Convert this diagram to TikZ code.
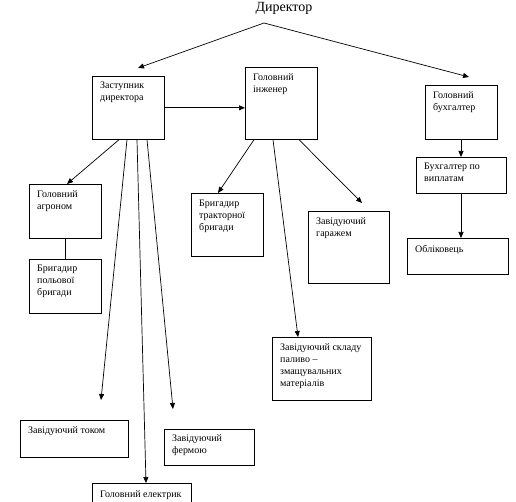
\documentclass[tikz,border=0pt]{standalone}
\usepackage{fontspec}
\setmainfont{Liberation Serif}
\usetikzlibrary{arrows.meta}
\begin{document}
\begin{tikzpicture}[x=1pt,y=-1pt,
  box/.style={draw,line width=0.7pt,inner sep=0pt,anchor=north west},
  txt/.style={inner sep=0pt,anchor=north west,align=left,font=\fontsize{10}{12}\selectfont},
  arr/.style={line width=0.7pt,-{Triangle[length=6pt,width=5pt]}},
  ln/.style={line width=0.7pt}]
\useasboundingbox (0,0) rectangle (516,502);
\clip (0,0) rectangle (516,502);
% title
\node[inner sep=0pt,font=\fontsize{14}{16}\selectfont] (dir) at (284,8) {Директор};
\coordinate (ds) at (264,23);
\coordinate (dl) at (138,68);
\coordinate (dr) at (469,77);
% boxes
\node[box,minimum width=72,minimum height=63] (zd) at (92,76) {};
\node[box,minimum width=72,minimum height=72] (ie) at (245,67) {};
\node[box,minimum width=72,minimum height=54] (bh) at (425,85) {};
\node[box,minimum width=90,minimum height=36] (bv) at (416,157) {};
\node[box,minimum width=101,minimum height=36] (ob) at (407,238) {};
\node[box,minimum width=72,minimum height=54] (ag) at (29,184) {};
\node[box,minimum width=72,minimum height=54] (bp) at (29,259) {};
\node[box,minimum width=72,minimum height=63] (bt) at (191,193) {};
\node[box,minimum width=81,minimum height=72] (zg) at (308,211) {};
\node[box,minimum width=99,minimum height=63] (zs) at (272,337) {};
\node[box,minimum width=108,minimum height=37] (zt) at (20,420) {};
\node[box,minimum width=90,minimum height=36] (zf) at (164,429) {};
\node[box,minimum width=99,minimum height=37] (ge) at (92,483) {};
% texts
\node[txt] (zdt) at (100,82) {Заступник\\директора};
\node[txt] (iet) at (253,73) {Головний\\інженер};
\node[txt] (bht) at (433,91) {Головний\\бухгалтер};
\node[txt] (bvt) at (424,163) {Бухгалтер по\\виплатам};
\node[txt] (obt) at (415,245) {Обліковець};
\node[txt] (agt) at (37,190) {Головний\\агроном};
\node[txt] (bpt) at (37,265) {Бригадир\\польової\\бригади};
\node[txt] (btt) at (199,200) {Бригадир\\тракторної\\бригади};
\node[txt] (zgt) at (316,217) {Завідуючий\\гаражем};
\node[txt] (zst) at (280,343) {Завідуючий складу\\паливо –\\змащувальних\\матеріалів};
\node[txt] (ztt) at (28,426) {Завідуючий током};
\node[txt] (zft) at (172,434) {Завідуючий\\фермою};
\node[txt] (get) at (100,490) {Головний електрик};
% free ends
\coordinate (zgend) at (362,203);
\coordinate (ztend) at (101,400);
\coordinate (zfend) at (173,409);
% connectors
\draw[arr] (ds) -- (dl);
\draw[arr] (ds) -- (dr);
\draw[arr] (zd.east) -- (ie.west |- zd.east);
\draw[arr] ([xshift=36pt]bh.south west) -- ([xshift=45pt]bv.north west);
\draw[arr] ([xshift=45pt]bv.south west) -- ([xshift=54pt]ob.north west);
\draw[ln] ([xshift=36pt]ag.south west) -- ([xshift=36pt]bp.north west);
\draw[arr] ([xshift=27pt]zd.south west) -- ([xshift=38pt]ag.north west);
\draw[arr] ([xshift=9pt]ie.south west) -- ([xshift=27pt]bt.north west);
\draw[arr] ([xshift=54pt]ie.south west) -- (zgend);
\draw[arr] ([xshift=28pt]ie.south west) -- ([xshift=26pt]zs.north west);
\draw[arr] ([xshift=35pt]zd.south west) -- (ztend);
\draw[arr] ([xshift=55pt]zd.south west) -- (zfend);
\draw[arr] ([xshift=45pt]zd.south west) -- ([xshift=54pt]ge.north west);
\end{tikzpicture}
\end{document}
